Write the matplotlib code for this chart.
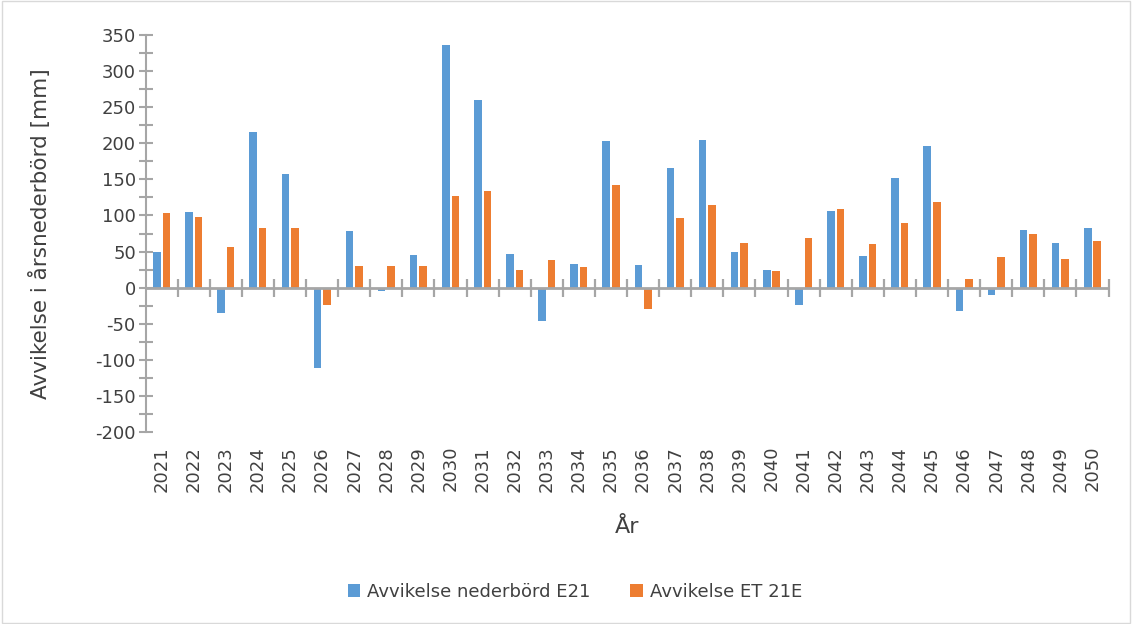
import matplotlib.pyplot as plt
import numpy as np
from matplotlib.patches import Rectangle

# data
years = list(range(2021, 2051))
nederbord = [50, 105, -35, 216, 158, -111, 79, -4, 45, 336,
             260, 47, -46, 33, 203, 31, 166, 205, 50, 25,
             -24, 106, 44, 152, 196, -33, -10, 80, 62, 82]
et = [104, 98, 56, 82, 83, -24, 30, 30, 30, 127,
      134, 25, 38, 29, 142, -29, 97, 115, 62, 23,
      69, 109, 61, 89, 119, 12, 43, 74, 40, 65]

blue = '#5B9BD5'
orange = '#ED7D31'
axis_grey = '#A6A6A6'
text_grey = '#404040'

plt.rcParams['font.family'] = ['DejaVu Sans']
plt.rcParams['axes.unicode_minus'] = False

fig = plt.figure(figsize=(11.32, 6.24), dpi=100)
ax = fig.add_axes([0.1286, 0.3077, 0.8507, 0.6362])

x = np.arange(len(years))
w = 0.235
ax.bar(x - 0.148, nederbord, w, color=blue, label='Avvikelse nederbörd E21')
ax.bar(x + 0.148, et, w, color=orange, label='Avvikelse ET 21E')

ax.set_xlim(-0.5, len(years) - 0.5)
ax.set_ylim(-200, 350)
ax.set_yticks(np.arange(-200, 351, 50))
ax.set_yticks(np.arange(-200, 351, 25), minor=True)
ax.tick_params(axis='y', which='both', direction='inout', length=10, width=1.5,
               color=axis_grey, labelsize=13, labelcolor=text_grey, pad=2)

ax.set_xticks(x)
ax.set_xticklabels([str(y) for y in years], rotation=90, fontsize=13, color=text_grey)
ax.tick_params(axis='x', length=0, pad=10)

for s in ['top', 'right', 'bottom']:
    ax.spines[s].set_visible(False)
ax.spines['left'].set_color(axis_grey)
ax.spines['left'].set_linewidth(1.5)

# horizontal axis at zero with crossing ticks between categories
ax.axhline(0, color=axis_grey, lw=2, zorder=3)
bounds = np.arange(0.5, len(years), 1.0)
ax.plot(bounds, np.zeros_like(bounds), linestyle='none', marker='|',
        markersize=13, markeredgewidth=1.6, color=axis_grey, zorder=3, clip_on=False)

ax.set_ylabel('Avvikelse i årsnederbörd [mm]', fontsize=15.5, color=text_grey, labelpad=32)
ax.set_xlabel('År', fontsize=16, color=text_grey, labelpad=18)

fig.legend(loc='center', bbox_to_anchor=(0.508, 0.052), ncol=2, frameon=False,
           fontsize=13, handlelength=0.7, handleheight=0.7, columnspacing=2.2,
           handletextpad=0.4, labelcolor=text_grey)

fig.patches.append(Rectangle((0.002, 0.002), 0.996, 0.996, transform=fig.transFigure,
                             fill=False, edgecolor='#D9D9D9', lw=1))

fig.savefig('out.png', dpi=100)
